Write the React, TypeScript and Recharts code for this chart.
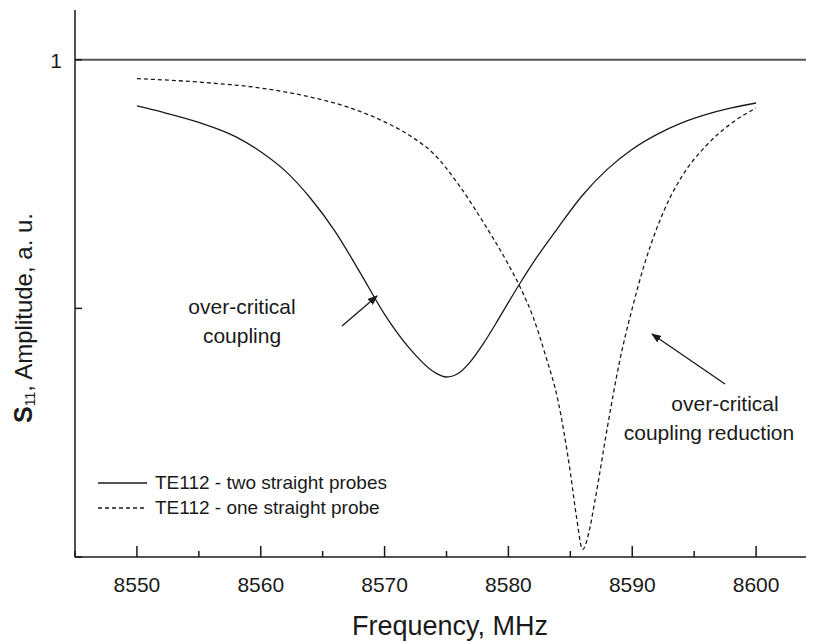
import React from 'react'
import { LineChart, Line, XAxis, YAxis, ReferenceLine, Legend } from 'recharts'

// TE112 - two straight probes
const freqTwoProbes = [
  8550, 8552, 8555, 8558, 8560, 8562, 8564, 8566, 8568, 8570, 8572, 8574, 8575, 8576,
  8577, 8578, 8579, 8580, 8581, 8582, 8584, 8586, 8588, 8590, 8592, 8594, 8596, 8598, 8600,
]
const ampTwoProbes = [
  0.907, 0.895, 0.874, 0.845, 0.815, 0.776, 0.722, 0.655, 0.573, 0.488, 0.42, 0.372, 0.362, 0.37,
  0.395, 0.43, 0.47, 0.512, 0.553, 0.592, 0.662, 0.728, 0.78, 0.82, 0.85, 0.873, 0.89, 0.903, 0.913,
]

// TE112 - one straight probe
const freqOneProbe = [
  8550, 8555, 8560, 8564, 8567, 8570, 8572, 8574, 8576, 8578, 8580, 8581, 8582, 8583, 8584,
  8585, 8585.5, 8586, 8586.5, 8587, 8588, 8589, 8590, 8591, 8592, 8593, 8594, 8596, 8598, 8600,
]
const ampOneProbe = [
  0.962, 0.955, 0.943, 0.925, 0.905, 0.875, 0.848, 0.81, 0.748, 0.672, 0.588, 0.54, 0.482, 0.405, 0.315,
  0.17, 0.08, 0.015, 0.05, 0.115, 0.262, 0.396, 0.5, 0.59, 0.662, 0.72, 0.765, 0.828, 0.872, 0.903,
]

const seriesNames = ['TE112 - two straight probes', 'TE112 - one straight probe']
const seriesDash = ['', '4 3']
const xTicks = [8545, 8550, 8555, 8560, 8565, 8570, 8575, 8580, 8585, 8590, 8595, 8600, 8605]
const xLabelTicks = [8550, 8560, 8570, 8580, 8590, 8600]
const yTicks = [0, 0.5, 1]
const yLabelTicks = [1]

const twoProbes = freqTwoProbes.map((f, i) => ({ f, v: ampTwoProbes[i] }))
const oneProbe = freqOneProbe.map((f, i) => ({ f, v: ampOneProbe[i] }))

const FONT = '"Liberation Sans", Arial, Helvetica, sans-serif'
const INK = '#1a1a1a'

const BottomTick = (props: any) => {
  const { x, y, payload } = props
  const major = xLabelTicks.includes(payload.value)
  return (
    <g>
      <line x1={x} x2={x} y1={y} y2={y - (major ? 11 : 6)} stroke={INK} strokeWidth={1.5} />
      {major && (
        <text x={x} y={y + 35} textAnchor="middle" fontSize={21} fill={INK} fontFamily={FONT}>
          {payload.value}
        </text>
      )}
    </g>
  )
}

const TopTick = (props: any) => {
  const { x, y } = props
  return <line x1={x} x2={x} y1={y} y2={y + 3} stroke={INK} strokeWidth={1.5} />
}

const LeftTick = (props: any) => {
  const { x, y, payload } = props
  return (
    <g>
      <line x1={x} x2={x + 7} y1={y} y2={y} stroke={INK} strokeWidth={1.5} />
      {yLabelTicks.includes(payload.value) && (
        <text x={x - 13} y={y + 8} textAnchor="end" fontSize={21} fill={INK} fontFamily={FONT}>
          {payload.value}
        </text>
      )}
    </g>
  )
}

const renderLegend = () => (
  <div style={{ fontFamily: FONT, fontSize: 19, color: INK }}>
    {seriesNames.map((name, i) => (
      <div key={name} style={{ display: 'flex', alignItems: 'center', height: 25 }}>
        <svg width={57} height={10}>
          <line x1={0} x2={49} y1={5} y2={5} stroke={INK} strokeWidth={1.3} strokeDasharray={seriesDash[i]} />
        </svg>
        <span>{name}</span>
      </div>
    ))}
  </div>
)

const Annotations = () => (
  <svg
    width={806}
    height={634}
    style={{ position: 'absolute', left: 0, top: 0, pointerEvents: 'none' }}
    fontFamily={FONT}
  >
    <defs>
      <marker id="arrowHead" markerWidth="10" markerHeight="8" refX="9" refY="4" orient="auto" markerUnits="userSpaceOnUse">
        <path d="M0,0 L10,4 L0,8 Z" fill={INK} />
      </marker>
    </defs>
    <g fontSize={21} fill={INK} textAnchor="middle">
      <text x={234} y={306}>over-critical</text>
      <text x={234} y={335}>coupling</text>
      <text x={717} y={403}>over-critical</text>
      <text x={701} y={432}>coupling reduction</text>
    </g>
    <line x1={334} y1={318} x2={369} y2={288} stroke={INK} strokeWidth={1.3} markerEnd="url(#arrowHead)" />
    <line x1={717} y1={376} x2={644} y2={326} stroke={INK} strokeWidth={1.3} markerEnd="url(#arrowHead)" />
    <text x={442} y={627} fontSize={27} fill={INK} textAnchor="middle">
      Frequency, MHz
    </text>
    <text transform="translate(24, 415) rotate(-90)" fontSize={24} fill={INK} textAnchor="start">
      <tspan fontWeight="bold" fontSize={25}>S</tspan>
      <tspan fontSize={14} dy={3}>11</tspan>
      <tspan dy={-3}>, Amplitude, a. u.</tspan>
    </text>
  </svg>
)

export default function App() {
  return (
    <div style={{ position: 'relative', width: 806, height: 634, overflow: 'hidden', fontFamily: FONT }}>
      <LineChart width={830} height={634} margin={{ top: 2, right: 20, bottom: 0, left: 0 }}>
        <XAxis
          dataKey="f"
          type="number"
          domain={[8545, 8605]}
          ticks={xTicks}
          tickSize={0}
          tickMargin={0}
          height={85}
          allowDataOverflow
          axisLine={{ stroke: INK, strokeWidth: 1.5 }}
          tick={(p: any) => <BottomTick {...p} />}
        />
        <XAxis
          xAxisId="top"
          orientation="top"
          dataKey="f"
          type="number"
          domain={[8545, 8605]}
          ticks={xTicks}
          tickSize={0}
          tickMargin={0}
          height={0}
          allowDataOverflow
          axisLine={{ stroke: '#333', strokeWidth: 1.5 }}
          tick={(p: any) => <TopTick {...p} />}
        />
        <YAxis
          type="number"
          domain={[0, 1.1]}
          ticks={yTicks}
          width={67}
          tickSize={0}
          tickMargin={0}
          allowDataOverflow
          axisLine={{ stroke: INK, strokeWidth: 1.5 }}
          tick={(p: any) => <LeftTick {...p} />}
        />
        <ReferenceLine y={1} stroke="#555" strokeWidth={2} />
        <Legend
          layout="vertical"
          align="center"
          verticalAlign="middle"
          content={renderLegend}
          wrapperStyle={{ left: 90, top: 462, width: 330 }}
        />
        <Line
          data={twoProbes}
          dataKey="v"
          name={seriesNames[0]}
          type="monotone"
          stroke={INK}
          strokeWidth={1.3}
          dot={false}
          isAnimationActive={false}
        />
        <Line
          data={oneProbe}
          dataKey="v"
          name={seriesNames[1]}
          type="monotone"
          stroke={INK}
          strokeWidth={1.3}
          strokeDasharray={seriesDash[1]}
          dot={false}
          isAnimationActive={false}
        />
      </LineChart>
      <Annotations />
    </div>
  )
}
